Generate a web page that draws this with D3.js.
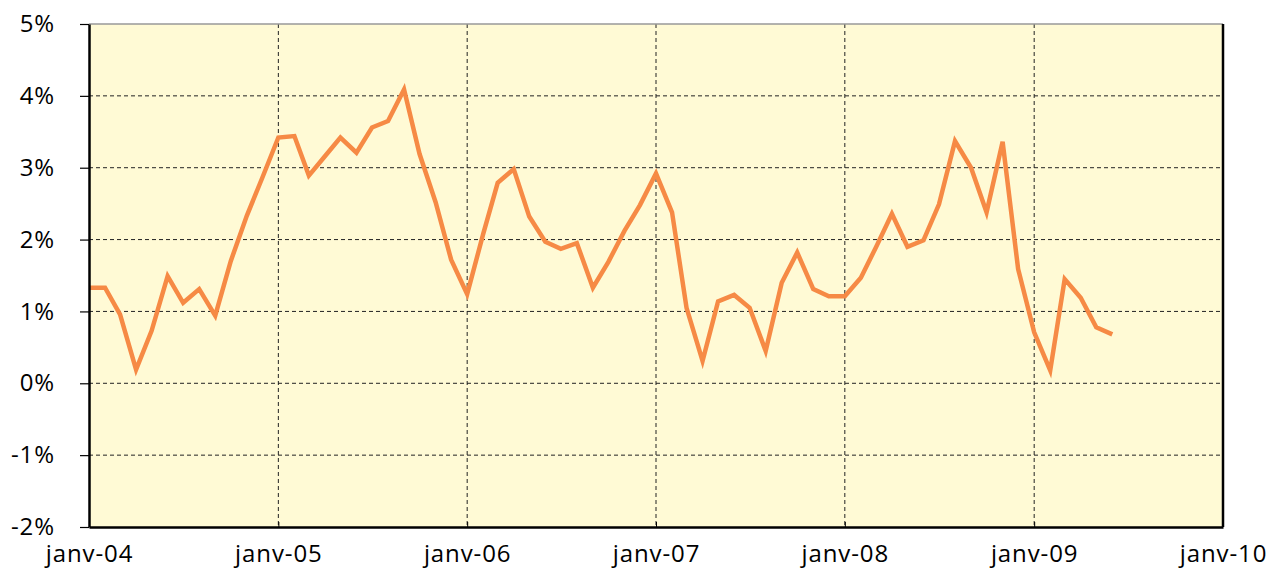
<!DOCTYPE html>
<html>
<head>
<meta charset="utf-8">
<script src="https://cdn.jsdelivr.net/npm/d3@7/dist/d3.min.js"></script>
<style>
  html, body { margin: 0; padding: 0; background: #ffffff; }
  svg { display: block; }
  text { font-family: "Open Sans", Lato, sans-serif; fill: #000; }
</style>
</head>
<body>
<svg id="chart" width="1273" height="572"></svg>
<script>
// Monthly values, Jan 2004 .. Jun 2009 (percent)
const startMonth = "2004-01";
const values = [
  1.33, 1.33, 0.96, 0.19, 0.73, 1.49, 1.12, 1.31, 0.94, 1.70, 2.33, 2.86,
  3.42, 3.44, 2.89, 3.16, 3.42, 3.21, 3.56, 3.65, 4.09, 3.19, 2.52, 1.72,
  1.24, 2.08, 2.79, 2.98, 2.32, 1.97, 1.87, 1.95, 1.33, 1.69, 2.12, 2.48,
  2.92, 2.38, 1.05, 0.31, 1.14, 1.23, 1.05, 0.45, 1.40, 1.82, 1.31, 1.21,
  1.21, 1.47, 1.89, 2.36, 1.90, 1.99, 2.49, 3.37, 3.00, 2.38, 3.36, 1.59,
  0.71, 0.18, 1.45, 1.19, 0.78, 0.68
];
const yTicks = [-2, -1, 0, 1, 2, 3, 4, 5];
const xTickLabels = ["janv-04", "janv-05", "janv-06", "janv-07", "janv-08", "janv-09", "janv-10"];
const xTickYears = [2004, 2005, 2006, 2007, 2008, 2009, 2010];

const margin = { left: 89, right: 1223, top: 24, bottom: 527 };
const svg = d3.select("#chart");

const x = d3.scaleTime()
  .domain([new Date(2004, 0, 1), new Date(2010, 0, 1)])
  .range([margin.left, margin.right]);
const y = d3.scaleLinear().domain([-2, 5]).range([margin.bottom, margin.top]);

const [sy, sm] = startMonth.split("-").map(Number);
const data = values.map((v, i) => ({ date: new Date(sy, sm - 1 + i, 1), v }));

// plot background
svg.append("rect")
  .attr("x", margin.left).attr("y", margin.top)
  .attr("width", margin.right - margin.left).attr("height", margin.bottom - margin.top)
  .attr("fill", "#FFFAD5");

// horizontal gridlines
svg.append("g").selectAll("line")
  .data(yTicks.filter(t => t > -2 && t < 5))
  .join("line")
  .attr("x1", margin.left).attr("x2", margin.right)
  .attr("y1", d => y(d)).attr("y2", d => y(d))
  .attr("stroke", "#222").attr("stroke-width", 1)
  .attr("stroke-dasharray", "4,3");

// vertical gridlines
svg.append("g").selectAll("line")
  .data(xTickYears.slice(1, -1))
  .join("line")
  .attr("x1", d => x(new Date(d, 0, 1))).attr("x2", d => x(new Date(d, 0, 1)))
  .attr("y1", margin.top).attr("y2", margin.bottom)
  .attr("stroke", "#222").attr("stroke-width", 1)
  .attr("stroke-dasharray", "4,3");

// top border (thin gray)
svg.append("line")
  .attr("x1", margin.left).attr("x2", margin.right)
  .attr("y1", margin.top).attr("y2", margin.top)
  .attr("stroke", "#999").attr("stroke-width", 1.5);
// right border
svg.append("line")
  .attr("x1", margin.right).attr("x2", margin.right)
  .attr("y1", margin.top).attr("y2", margin.bottom)
  .attr("stroke", "#000").attr("stroke-width", 2.5);

// line
const line = d3.line().x(d => x(d.date)).y(d => y(d.v));
svg.append("path")
  .datum(data)
  .attr("d", line)
  .attr("fill", "none")
  .attr("stroke", "#F68A45")
  .attr("stroke-width", 4.5)
  .attr("stroke-linejoin", "miter");

const fontFam = "'Open Sans', Lato, sans-serif";

// Y axis
const yAxis = d3.axisLeft(y)
  .tickValues(yTicks)
  .tickFormat(d => d + "%")
  .tickSize(9)
  .tickSizeOuter(0)
  .tickPadding(25);
const gy = svg.append("g").attr("transform", `translate(${margin.left},0)`).call(yAxis);
gy.select(".domain").attr("stroke", "#000").attr("stroke-width", 2.5);
gy.selectAll(".tick line").attr("stroke", "#000").attr("stroke-width", 1.2);
gy.selectAll(".tick text").style("font-size", "24px").style("letter-spacing", "0.9px")
  .style("font-family", fontFam).attr("fill", "#000");

// X axis
const xAxis = d3.axisBottom(x)
  .tickValues(xTickYears.map(yy => new Date(yy, 0, 1)))
  .tickFormat((d, i) => xTickLabels[i])
  .tickSize(-5)
  .tickSizeOuter(0)
  .tickPadding(18);
const gx = svg.append("g").attr("transform", `translate(0,${margin.bottom})`).call(xAxis);
gx.select(".domain").attr("stroke", "#000").attr("stroke-width", 2.5);
gx.selectAll(".tick line").attr("stroke", "#000").attr("stroke-width", 1);
gx.selectAll(".tick text").style("font-size", "24px").style("letter-spacing", "0.9px")
  .style("font-family", fontFam).attr("fill", "#000");
</script>
</body>
</html>
